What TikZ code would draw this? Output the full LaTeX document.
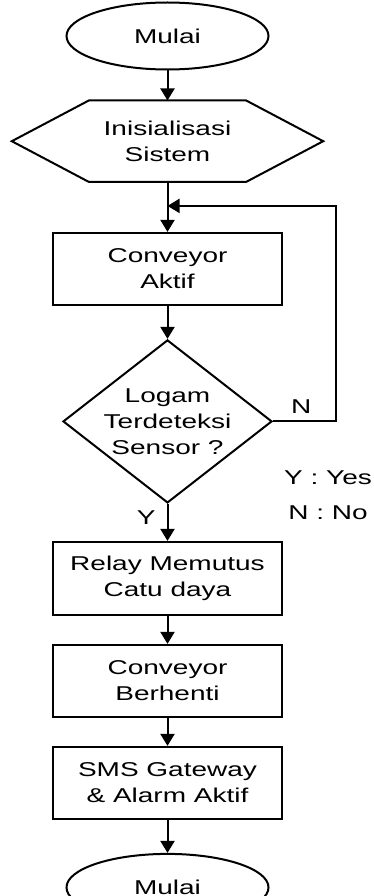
\documentclass[tikz,border=0pt]{standalone}
\usepackage{fontspec}
\setmainfont{Liberation Sans}[FakeStretch=1.4]
\usetikzlibrary{shapes,arrows.meta,positioning}

\begin{document}
\begin{tikzpicture}[
    x=1pt, y=1pt,
    node distance=30pt,
    font=\fontsize{20pt}{26pt}\selectfont,
    term/.style={ellipse, draw, line width=2pt, minimum width=202pt, minimum height=67pt, inner sep=0pt, align=center},
    box/.style={rectangle, draw, line width=2pt, minimum width=229pt, minimum height=72pt, inner sep=0pt, align=center},
    prep/.style={rectangle, minimum width=157pt, minimum height=81pt, inner sep=0pt, align=center},
    decision/.style={diamond, draw, line width=2pt, minimum width=209pt, minimum height=163pt, inner sep=0pt},
    lbl/.style={inner sep=1pt},
    arr/.style={-{Triangle[width=14pt,length=12pt]}, line width=2pt}
]
\useasboundingbox (0,0) rectangle (374,-896);
\clip (0,0) rectangle (374,-896);

\node[term] (start) at (167.5,-36) {Mulai};
\node[prep, below=30pt of start] (init) {Inisialisasi\\Sistem};
\draw[line width=2pt] (init.north west) -- (init.north east) -- ([xshift=77pt]init.east) -- (init.south east) -- (init.south west) -- ([xshift=-77pt]init.west) -- cycle;
\node[box, below=50pt of init] (conv) {Conveyor\\Aktif};
\node[decision, below=33pt of conv, label={[align=center]center:{Logam\\Terdeteksi\\Sensor ?}}] (sensor) {};
\node[box, below=37pt of sensor, minimum height=73pt] (relay) {Relay Memutus\\Catu daya};
\node[box, below=28pt of relay] (stop) {Conveyor\\Berhenti};
\node[box, below=28pt of stop] (sms) {SMS Gateway\\\& Alarm Aktif};
\node[term, below=33pt of sms] (finish) {Mulai};
\node (yes) at (328,-478) {Y : Yes};
\node (no) at (328,-513) {N : No};
\coordinate (merge) at ([yshift=-24pt]init.south);

\draw[arr] (start) -- (init);
\draw[arr] (init) -- (conv);
\draw[arr] (conv) -- (sensor);
\draw[arr] (sensor) -- node[lbl, left=10pt, pos=0.38] {Y} (relay);
\draw[arr] (sensor.east) -- node[lbl, above=6pt, pos=0.45] {N} ++(63,0) |- (merge);
\draw[arr] (relay) -- (stop);
\draw[arr] (stop) -- (sms);
\draw[arr] (sms) -- (finish);
\end{tikzpicture}
\end{document}
